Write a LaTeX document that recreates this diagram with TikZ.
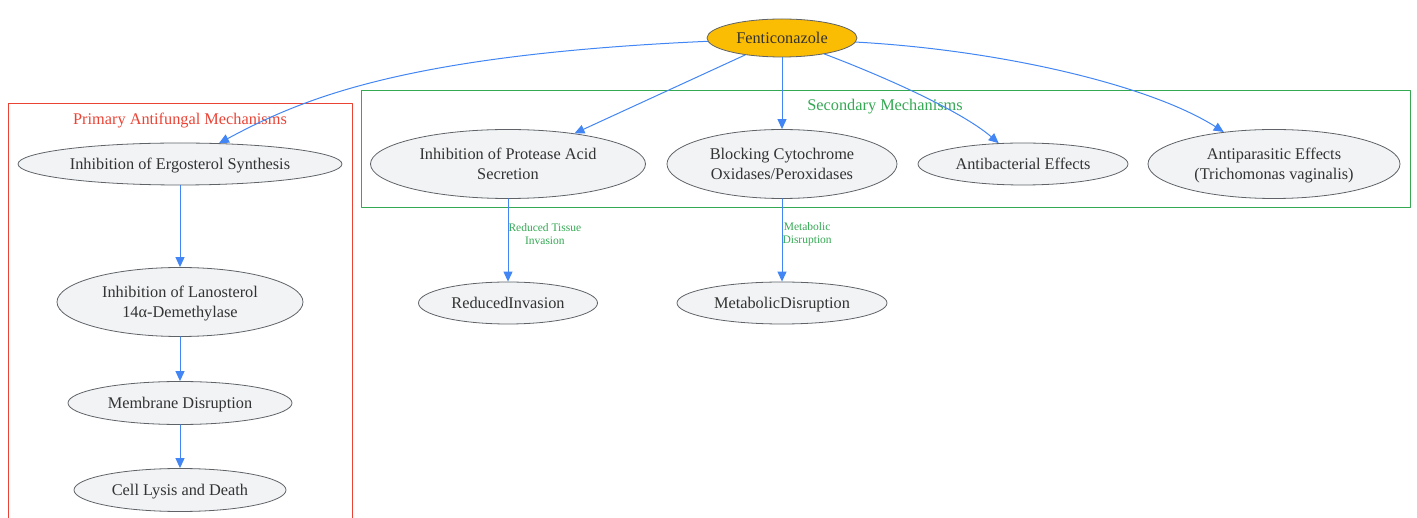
\documentclass[tikz,border=0pt]{standalone}
\usepackage{fontspec}
\setmainfont{Liberation Serif}
\usetikzlibrary{arrows.meta,shapes.geometric}
\definecolor{gblue}{HTML}{4285F4}
\definecolor{gred}{HTML}{EA4335}
\definecolor{ggreen}{HTML}{34A853}
\definecolor{gorange}{HTML}{FBBC04}
\definecolor{nodefill}{HTML}{F1F3F4}
\definecolor{nodeborder}{HTML}{5F6368}
\definecolor{textgray}{HTML}{333333}

\begin{document}
\begin{tikzpicture}[line cap=round,line join=round,>={Triangle[length=10pt,width=9pt]},x=1pt,y=-1pt,
  proc/.style={ellipse,draw=nodeborder,fill=nodefill,line width=0.8pt,inner sep=0pt,text=textgray,font=\fontsize{16.3}{19.5}\selectfont,align=center,text depth=0pt},
  root/.style={proc,fill=gorange},
  flow/.style={->,draw=gblue,line width=1pt},
  edgelbl/.style={text=ggreen,font=\fontsize{11.5}{13}\selectfont,align=center,inner sep=1pt},
  boxtitle/.style={font=\fontsize{16.3}{19.5}\selectfont,text depth=0pt}]

\useasboundingbox (0,0) rectangle (1417,518);

\draw[gred,line width=0.8pt] (8,518) -- (8,103) -- (352,103) -- (352,518);
\draw[ggreen,line width=0.8pt] (361,90) rectangle (1410,207);
\node[boxtitle,text=gred] (primtitle) at (180,119) {Primary Antifungal Mechanisms};
\node[boxtitle,text=ggreen] (sectitle) at (885,105) {Secondary Mechanisms};

\node[root,minimum width=150pt,minimum height=38pt] (fent) at (782,38) {Fenticonazole};

\node[proc,minimum width=324pt,minimum height=42pt] (ergo) at (180,164) {Inhibition of Ergosterol Synthesis};
\node[proc,minimum width=246pt,minimum height=69pt] (lano) at (180,302) {Inhibition of Lanosterol\\14α-Demethylase};
\node[proc,minimum width=224pt,minimum height=43pt] (memb) at (180,403) {Membrane Disruption};
\node[proc,minimum width=212pt,minimum height=43pt] (lysis) at (180,490) {Cell Lysis and Death};

\node[proc,minimum width=275pt,minimum height=69pt] (prot) at (508,164) {Inhibition of Protease Acid\\Secretion};
\node[proc,minimum width=230pt,minimum height=69pt] (cyto) at (782,164) {Blocking Cytochrome\\Oxidases/Peroxidases};
\node[proc,minimum width=210pt,minimum height=42pt] (antibac) at (1023,164) {Antibacterial Effects};
\node[proc,minimum width=252pt,minimum height=69pt] (antipar) at (1274,164) {Antiparasitic Effects\\(Trichomonas vaginalis)};

\node[proc,minimum width=179pt,minimum height=42pt] (redinv) at (508,303) {ReducedInvasion};
\node[proc,minimum width=210pt,minimum height=42pt] (metab) at (782,303) {MetabolicDisruption};

\draw[flow] (fent) .. controls (400,55) and (300,100) .. (ergo);
\draw[flow] (fent) -- (prot);
\draw[flow] (fent) -- (cyto);
\draw[flow] (fent) .. controls (880,75) and (960,110) .. (antibac);
\draw[flow] (fent) .. controls (1000,50) and (1150,85) .. (antipar);

\draw[flow] (ergo) -- (lano);
\draw[flow] (lano) -- (memb);
\draw[flow] (memb) -- (lysis);

\draw[flow] (prot) -- (redinv) node[edgelbl,midway,right,xshift=-1pt,yshift=6pt] (lblinv) {Reduced Tissue\\Invasion};
\draw[flow] (cyto) -- (metab) node[edgelbl,midway,right,xshift=-1pt,yshift=6pt] (lblmet) {Metabolic\\Disruption};
\end{tikzpicture}
\end{document}
